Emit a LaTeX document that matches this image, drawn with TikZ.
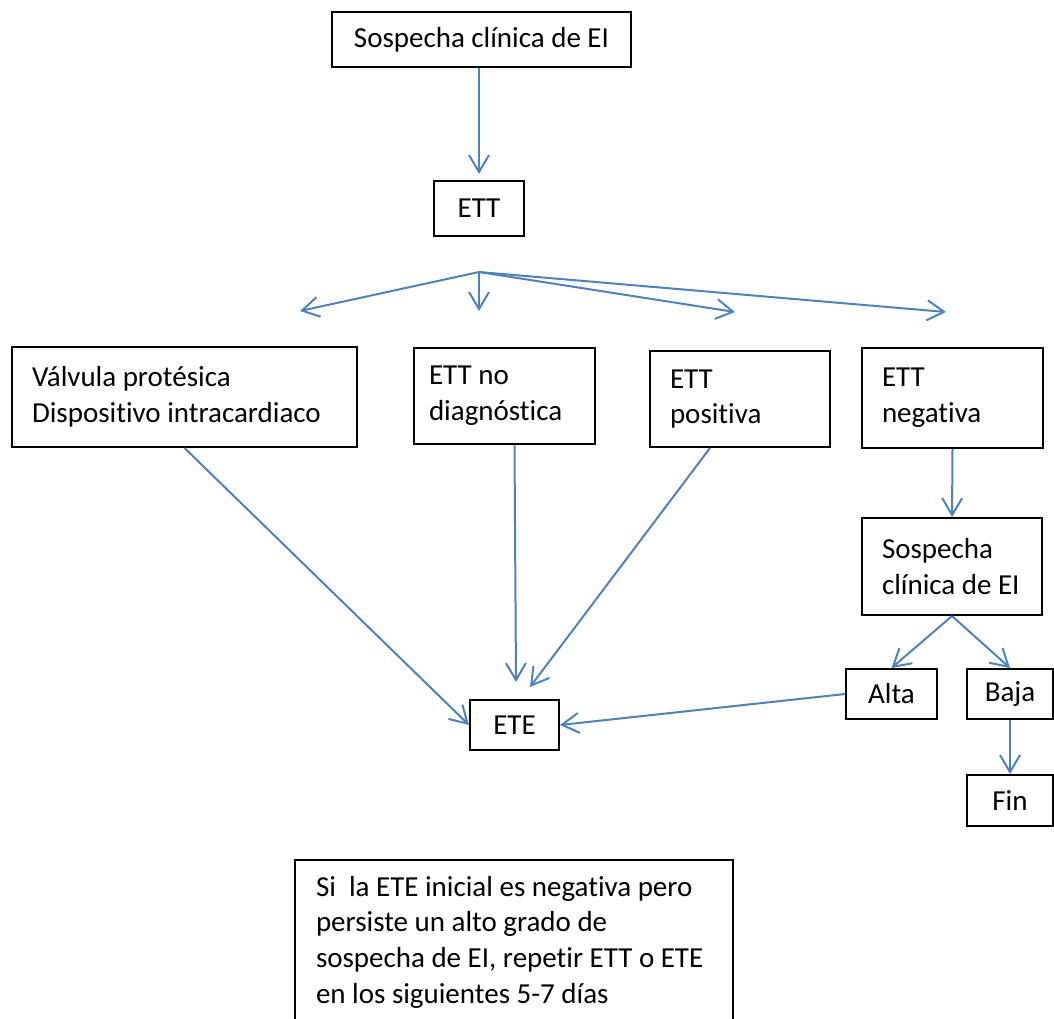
\documentclass[tikz,border=0pt]{standalone}
\usepackage{fontspec}
\setmainfont{Carlito}[Ligatures=NoCommon]
\usetikzlibrary{arrows.meta}
\usepackage{xcolor}
\definecolor{arrowblue}{RGB}{79,129,189}

\begin{document}
\begin{tikzpicture}[x=0.02cm, y=-0.02cm]
\tikzstyle{box} = [
	shape=rectangle,
	draw=black, %border of the box
	line width=0.4mm,
	font=\fontsize{16.5}{20.4}\selectfont,
	inner sep=0pt
];
\tikzstyle{textbox} = [
	box,
	align=left, %text on the left
	execute at begin node={\spaceskip=0pt\relax}, %normal word spaces
	inner xsep=0.4cm
];

\useasboundingbox (0,0) rectangle (1054,1018);

%first steps
\node[box, minimum width=5.98cm, minimum height=1.1cm](So) at (481.5,39.5) {Sospecha clínica de EI};
\node[box, minimum width=1.8cm, minimum height=1.1cm](Tt) at (479,208.5) {ETT};

%fork
\coordinate (Fk) at (479,272);
\coordinate (F1) at (300,311);
\coordinate (F2) at (479,311);
\coordinate (F3) at (735,312);
\coordinate (F4) at (946,312);

%results of the ETT
\node[textbox, text width=6.1cm, minimum height=2cm](Va) at (184.5,397) {Válvula protésica\\Dispositivo intracardiaco};
\node[textbox, inner xsep=0.3cm, text width=3.02cm, minimum height=1.92cm](Nd) at (504.5,396) {ETT no\\diagnóstica};
\node[textbox, text width=2.8cm, minimum height=1.92cm](Po) at (740,399) {ETT\\positiva};
\node[textbox, text width=2.82cm, minimum height=2cm](Ne) at (952.5,398) {ETT\\negativa};

%negative branch
\node[textbox, text width=2.8cm, minimum height=1.94cm](Sc) at (952,566.5) {Sospecha\\\mbox{clínica de EI}};
\node[box, minimum width=1.82cm, minimum height=1cm](Al) at (891.5,694) {Alta};
\node[box, minimum width=1.72cm, minimum height=1cm](Ba) at (1010,694) {Baja};
\node[box, minimum width=1.72cm, minimum height=1.02cm](Fi) at (1010,800.5) {Fin};

%ETE and note
\node[box, minimum width=1.78cm, minimum height=1cm](Te) at (514.5,725) {ETE};
\node[textbox, inner xsep=0.42cm, inner ysep=0.32cm, text width=7.92cm, anchor=north west](Si) at (294,859) {\mbox{Si\ \ la ETE inicial es negativa pero}\\\mbox{persiste un alto grado de}\\\mbox{sospecha de EI, repetir ETT o ETE}\\\mbox{en los siguientes 5-7 días}};

%arrows
\path[-{Straight Barb[length=3.4mm,width=4mm]}, line width=0.4mm, color=arrowblue]
	(So.south -| Tt.north) edge[shorten >=0.12cm] (Tt.north)
	(Fk) edge[] (F1)
	(Fk) edge[] (F2)
	(Fk) edge[] (F3)
	(Fk) edge[] (F4)
	(Va.south) edge[] (Te.west)
	([xshift=0.2cm]Nd.south) edge[] ([xshift=0.03cm,yshift=0.34cm]Te.north)
	([xshift=-0.6cm]Po.south) edge[] ([xshift=0.31cm,yshift=0.24cm]Te.north)
	(Al.west) edge[] (Te.east)
	(Ne.south) edge[] (Sc.north)
	(Sc.south) edge[] (Al.north)
	(Sc.south) edge[] (Ba.north)
	(Ba.south) edge[] (Fi.north)
;

\end{tikzpicture}
\end{document}
